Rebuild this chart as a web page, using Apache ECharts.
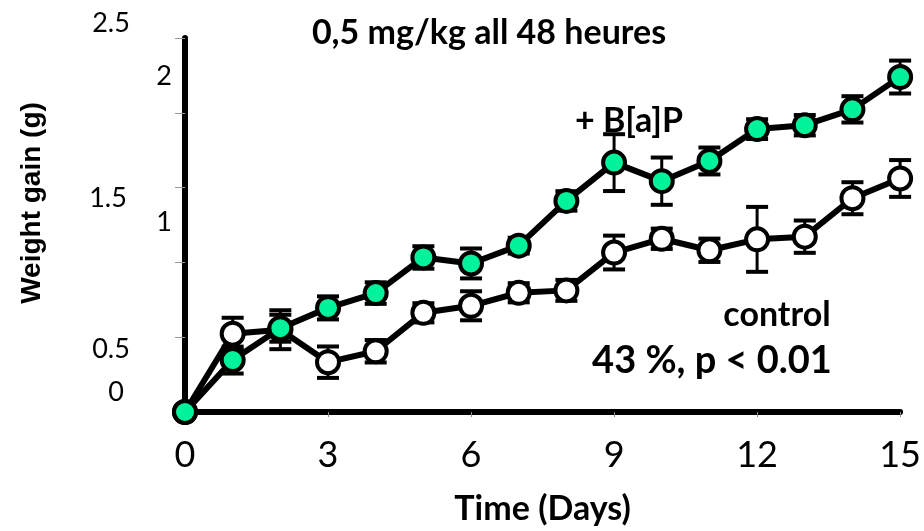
<!DOCTYPE html>
<html>
<head>
<meta charset="utf-8">
<script src="https://cdn.jsdelivr.net/npm/echarts@6/dist/echarts.min.js"></script>
<style>html,body{margin:0;padding:0;background:#fff}#c{width:924px;height:531px}</style>
</head>
<body>
<div id="c"></div>
<script>
// ---- data ----
const days = [0,1,2,3,4,5,6,7,8,9,10,11,12,13,14,15];
const bapMean = [0, 0.347, 0.56, 0.696, 0.795, 1.033, 0.993, 1.112, 1.411, 1.667, 1.543, 1.678, 1.891, 1.917, 2.023, 2.239];
const bapErr  = [0, 0.09, 0.09, 0.077, 0.072, 0.075, 0.10, 0.053, 0.065, 0.19, 0.158, 0.09, 0.066, 0.068, 0.088, 0.11];
const ctrlMean = [0, 0.523, 0.55, 0.333, 0.406, 0.663, 0.71, 0.797, 0.813, 1.066, 1.158, 1.081, 1.154, 1.172, 1.429, 1.561];
const ctrlErr  = [0, 0.107, 0.13, 0.105, 0.075, 0.064, 0.097, 0.064, 0.07, 0.113, 0.068, 0.078, 0.217, 0.108, 0.107, 0.123];
const yTickLabels = ['2.5', '2', '1.5', '1', '0.5', '0'];
const titleText = '0,5 mg/kg all 48 heures';
const bapLabel = '+ B[a]P';
const ctrlLabel = 'control';
const statText = '43 %, p < 0.01';
const xName = 'Time (Days)';
const yName = 'Weight gain (g)';

// ---- layout (positions only) ----
const yLabelPos = [[111,23],[164,76],[108,198],[164,222],[111,349],[116,392]];

const chart = echarts.init(document.getElementById('c'));

function errBar(params, api) {
  const x = api.value(0), m = api.value(1), e = api.value(2);
  if (!e) return null;
  const t = api.coord([x, m + e]);
  const b = api.coord([x, m - e]);
  const hw = 11;
  const st = {stroke: '#000', lineWidth: 3};
  const cs = {stroke: '#000', lineWidth: 4};
  return {type: 'group', children: [
    {type: 'line', shape: {x1: t[0], y1: t[1], x2: b[0], y2: b[1]}, style: st},
    {type: 'line', shape: {x1: t[0]-hw, y1: t[1], x2: t[0]+hw, y2: t[1]}, style: cs},
    {type: 'line', shape: {x1: b[0]-hw, y1: b[1], x2: b[0]+hw, y2: b[1]}, style: cs}
  ]};
}

const graphics = yTickLabels.map((t, i) => ({
  type: 'text', x: yLabelPos[i][0], y: yLabelPos[i][1],
  style: {text: t, font: '27px Lato', fill: '#000', textAlign: 'center', textVerticalAlign: 'middle'}
}));
graphics.push(
  {type: 'text', x: 489, y: 33, style: {text: titleText, font: 'bold 34px Lato', fill: '#000', textAlign: 'center', textVerticalAlign: 'middle'}},
  {type: 'text', x: 629, y: 121, style: {text: bapLabel, font: 'bold 34px Lato', fill: '#000', textAlign: 'center', textVerticalAlign: 'middle'}},
  {type: 'text', x: 777, y: 315, style: {text: ctrlLabel, font: 'bold 34px Lato', fill: '#000', textAlign: 'center', textVerticalAlign: 'middle'}},
  {type: 'text', x: 712, y: 361, style: {text: statText, font: 'bold 38px Lato', fill: '#000', textAlign: 'center', textVerticalAlign: 'middle'}},
  {type: 'text', x: 32, y: 203, rotation: Math.PI/2, style: {text: yName, font: 'bold 28px "Liberation Sans"', fill: '#000', textAlign: 'center', textVerticalAlign: 'middle'}}
);

chart.setOption({
  animation: false,
  backgroundColor: '#fff',
  grid: {left: 185, right: 14, top: 38, bottom: 114},
  xAxis: {
    type: 'value', min: 0, max: 15, interval: 3,
    axisLine: {lineStyle: {color: '#000', width: 6}},
    axisTick: {length: 5, lineStyle: {color: '#888', width: 1}},
    splitLine: {show: false},
    axisLabel: {fontFamily: 'Lato', fontSize: 36, color: '#000', margin: 25},
    name: xName, nameLocation: 'middle', nameGap: 80,
    nameTextStyle: {fontFamily: 'Lato', fontWeight: 'bold', fontSize: 34, color: '#000'}
  },
  yAxis: {
    type: 'value', min: 0, max: 2.5, interval: 0.5,
    axisLine: {show: true, lineStyle: {color: '#000', width: 6}},
    axisTick: {show: true, length: 10, lineStyle: {color: '#999', width: 1}},
    splitLine: {show: false},
    axisLabel: {show: false}
  },
  graphic: graphics,
  series: [
    {type: 'custom', renderItem: errBar, z: 1, data: days.map((d, i) => [d, ctrlMean[i], ctrlErr[i]])},
    {type: 'custom', renderItem: errBar, z: 1, data: days.map((d, i) => [d, bapMean[i], bapErr[i]])},
    {type: 'line', z: 2, data: days.map((d, i) => [d, ctrlMean[i]]), symbol: 'circle', symbolSize: 22, showAllSymbol: true,
      lineStyle: {color: '#000', width: 6}, itemStyle: {color: '#fff', borderColor: '#000', borderWidth: 4}},
    {type: 'line', z: 3, data: days.map((d, i) => [d, bapMean[i]]), symbol: 'circle', symbolSize: 22, showAllSymbol: true,
      lineStyle: {color: '#000', width: 6}, itemStyle: {color: '#00F29A', borderColor: '#000', borderWidth: 4}}
  ]
});
</script>
</body>
</html>
